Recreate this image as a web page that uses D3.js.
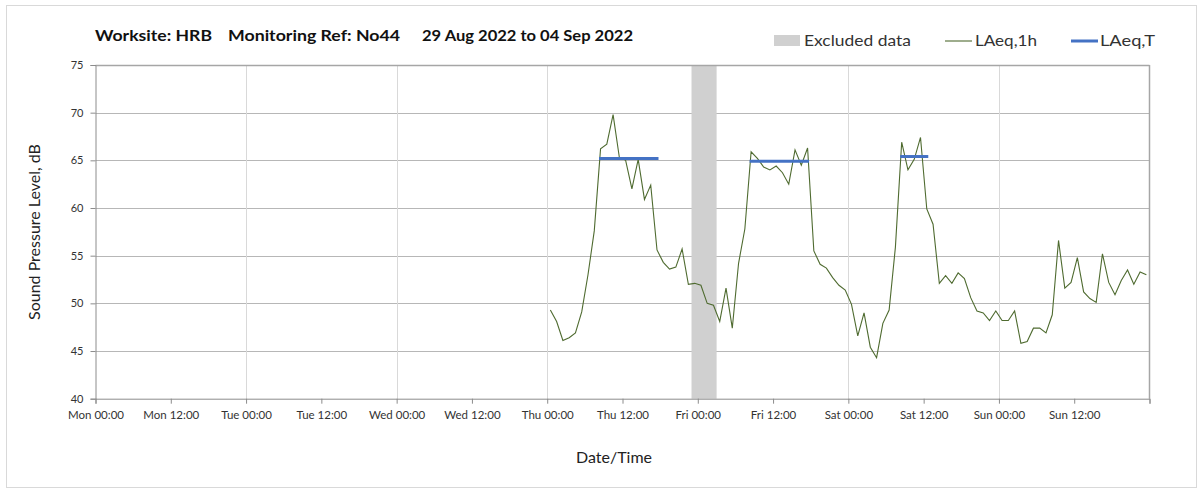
<!DOCTYPE html>
<html><head><meta charset="utf-8">
<script src="https://cdn.jsdelivr.net/npm/d3@7"></script>
<style>
body{margin:0;background:#fff;}
svg{display:block;font-family:Lato,"Open Sans",sans-serif;}
</style></head>
<body>
<svg id="c" width="1203" height="493"></svg>
<script>
// ---- data ----
const titleParts = ["Worksite: HRB", "Monitoring Ref: No44", "29 Aug 2022 to 04 Sep 2022"];
const xTickHours = [0,12,24,36,48,60,72,84,96,108,120,132,144,156,168];
const xTickLabels = ["Mon 00:00","Mon 12:00","Tue 00:00","Tue 12:00","Wed 00:00","Wed 12:00","Thu 00:00","Thu 12:00","Fri 00:00","Fri 12:00","Sat 00:00","Sat 12:00","Sun 00:00","Sun 12:00",""];
const yTicks = [40,45,50,55,60,65,70,75];
// hourly LAeq,1h starting Thu 00:30 (hours from Mon 00:00)
const firstHour = 72.5;
const laeq1h = [
 49.3,48.1,46.1,46.4,46.9,49.1,53.0,57.6,66.2,66.7,69.8,65.3,65.0,62.0,65.1,60.9,
 62.4,55.6,54.3,53.6,53.8,55.7,52.0,52.1,51.9,50.0,49.8,48.1,51.6,47.4,54.2,57.8,
 65.9,65.2,64.3,64.0,64.4,63.7,62.5,66.1,64.5,66.3,55.5,54.1,53.7,52.7,51.9,51.4,
 49.9,46.6,49.0,45.4,44.3,47.9,49.3,55.9,66.9,64.0,65.1,67.4,59.9,58.3,52.1,52.9,
 52.1,53.2,52.6,50.6,49.2,49.0,48.2,49.2,48.2,48.2,49.2,45.8,46.0,47.4,47.4,46.9,
 48.8,56.6,51.6,52.2,54.8,51.2,50.5,50.1,55.2,52.2,50.9,52.4,53.5,52.0,53.3,53.0
];
const hours = laeq1h.map((v,i)=>firstHour+i);
// LAeq,T periods: [startHour, endHour, level]
const laeqTStart = [80.5,104.5,128.5];
const laeqTEnd   = [89.5,113.5,132.5];
const laeqTVal   = [65.2,64.9,65.4];
// excluded data period (hours)
const excludedStart = [95];
const excludedEnd   = [99];

// ---- chart ----
const svg = d3.select("#c");
const x = d3.scaleLinear().domain([0,168]).range([95.5,1149.5]);
const y = d3.scaleLinear().domain([40,75]).range([398.7,65]);

// outer border
svg.append("rect").attr("x",6.5).attr("y",5.5).attr("width",1190).attr("height",482)
  .attr("fill","none").attr("stroke","#d9d9d9");

// horizontal gridlines
svg.append("g").selectAll("line").data(yTicks.slice(1,-1)).join("line")
  .attr("x1",x(0)).attr("x2",x(168)).attr("y1",d=>Math.round(y(d))+0.5).attr("y2",d=>Math.round(y(d))+0.5)
  .attr("stroke","#b7b7b7").attr("stroke-width",1);
// vertical gridlines (day boundaries)
svg.append("g").selectAll("line").data(xTickHours.filter(h=>h%24===0 && h>0 && h<168)).join("line")
  .attr("y1",y(40)).attr("y2",y(75)).attr("x1",d=>Math.round(x(d))+0.5).attr("x2",d=>Math.round(x(d))+0.5)
  .attr("stroke","#d9d9d9").attr("stroke-width",1);

// excluded band
svg.append("g").selectAll("rect").data(excludedStart).join("rect")
  .attr("x",(d,i)=>x(d)).attr("width",(d,i)=>x(excludedEnd[i])-x(d))
  .attr("y",y(75)).attr("height",y(40)-y(75)).attr("fill","#d0d0d0");

// plot frame top & right
svg.append("line").attr("x1",x(0)).attr("x2",x(168)).attr("y1",y(75)+0.5).attr("y2",y(75)+0.5)
  .attr("stroke","#a6a6a6").attr("stroke-width",1.5);
svg.append("line").attr("x1",x(168)).attr("x2",x(168)).attr("y1",y(75)).attr("y2",y(40))
  .attr("stroke","#a6a6a6").attr("stroke-width",1.5);

// axes
const xAxis = d3.axisBottom(x).tickValues(xTickHours).tickSize(5).tickFormat((d,i)=>xTickLabels[i]);
const gx = svg.append("g").attr("transform",`translate(0,${y(40)})`).call(xAxis);
gx.select(".domain").attr("stroke","#8c8c8c");
gx.selectAll(".tick line").attr("stroke","#8c8c8c");
gx.selectAll(".tick text").attr("fill","#333").attr("font-size",11.5).attr("dy","1.05em")
  .attr("font-family","Lato,sans-serif");

const yAxis = d3.axisLeft(y).tickValues(yTicks).tickSize(5).tickFormat(d3.format("d"));
const gy = svg.append("g").attr("transform",`translate(${x(0)},0)`).call(yAxis);
gy.select(".domain").attr("stroke","#8c8c8c");
gy.selectAll(".tick line").attr("stroke","#8c8c8c");
gy.selectAll(".tick text").attr("fill","#333").attr("font-size",11).attr("x",-12)
  .attr("font-family","Lato,sans-serif");

// LAeq,1h line
const line = d3.line().x((d,i)=>x(hours[i])).y(d=>y(d));
svg.append("path").datum(laeq1h).attr("d",line).attr("fill","none")
  .attr("stroke","#4f6b30").attr("stroke-width",1.1).attr("stroke-linejoin","miter");

// LAeq,T segments
svg.append("g").selectAll("line").data(laeqTVal).join("line")
  .attr("x1",(d,i)=>x(laeqTStart[i])).attr("x2",(d,i)=>x(laeqTEnd[i]))
  .attr("y1",d=>y(d)).attr("y2",d=>y(d))
  .attr("stroke","#4472c4").attr("stroke-width",3).attr("stroke-linecap","square");

// title
const tx = [95,228,422];
const tw = [117,172,211];
svg.append("g").selectAll("text").data(titleParts).join("text")
  .attr("x",(d,i)=>tx[i]).attr("y",41).attr("font-weight","bold").attr("font-size",15)
  .attr("textLength",(d,i)=>tw[i]).attr("lengthAdjust","spacingAndGlyphs")
  .attr("fill","#111").text(d=>d);

// legend
const lg = svg.append("g");
lg.append("rect").attr("x",774).attr("y",35).attr("width",26).attr("height",11).attr("fill","#d0d0d0");
lg.append("text").attr("x",804).attr("y",46).attr("font-size",16).attr("fill","#333")
  .attr("textLength",107).attr("lengthAdjust","spacingAndGlyphs").text("Excluded data");
lg.append("line").attr("x1",945).attr("x2",972).attr("y1",41).attr("y2",41).attr("stroke","#4f6b30").attr("stroke-width",1.1);
lg.append("text").attr("x",975).attr("y",46).attr("font-size",16).attr("fill","#333")
  .attr("textLength",62).attr("lengthAdjust","spacingAndGlyphs").text("LAeq,1h");
lg.append("line").attr("x1",1071).attr("x2",1098).attr("y1",41).attr("y2",41).attr("stroke","#4472c4").attr("stroke-width",3);
lg.append("text").attr("x",1100).attr("y",46).attr("font-size",16).attr("fill","#333")
  .attr("textLength",55).attr("lengthAdjust","spacingAndGlyphs").text("LAeq,T");

// axis titles
svg.append("text").attr("x",614).attr("y",463).attr("text-anchor","middle").attr("font-size",16)
  .attr("fill","#222").text("Date/Time");
svg.append("text").attr("transform","translate(40,232) rotate(-90)").attr("text-anchor","middle")
  .attr("font-size",16).attr("fill","#222").text("Sound Pressure Level, dB");
</script>
</body></html>
